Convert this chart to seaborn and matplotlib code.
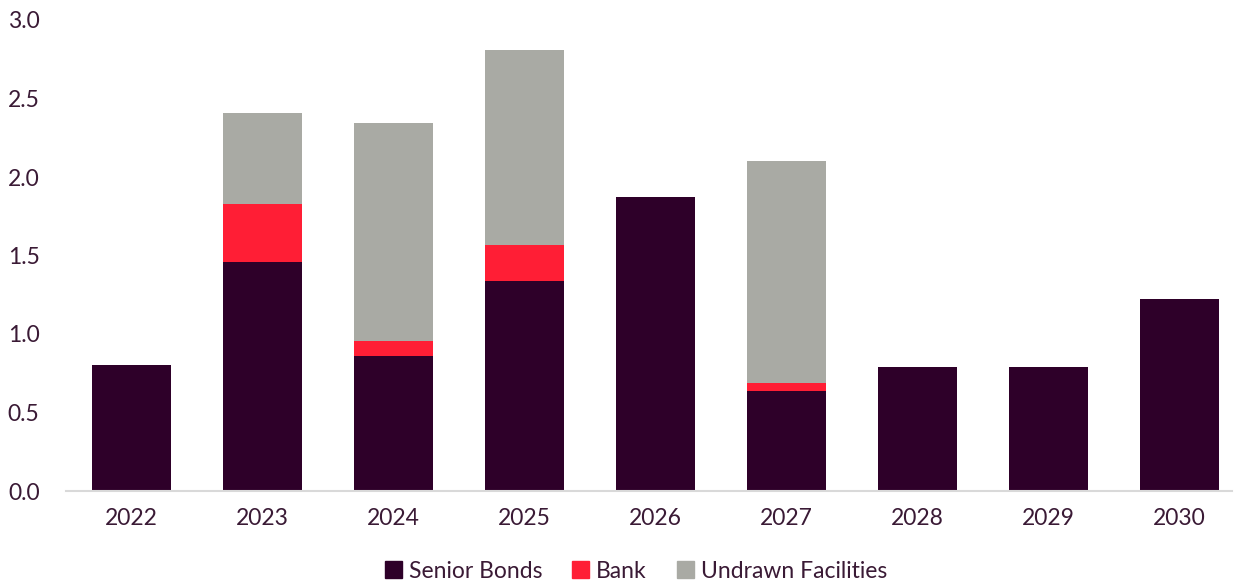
import numpy as np
import pandas as pd
import matplotlib
matplotlib.use("Agg")
import matplotlib.pyplot as plt
import seaborn as sns
from matplotlib.patches import Patch

# datos (miles de millones)
years = ["2022", "2023", "2024", "2025", "2026", "2027", "2028", "2029", "2030"]
senior_bonds = [0.80, 1.46, 0.86, 1.34, 1.87, 0.64, 0.79, 0.79, 1.22]
bank = [0.00, 0.37, 0.095, 0.23, 0.00, 0.05, 0.00, 0.00, 0.00]
undrawn = [0.00, 0.58, 1.39, 1.24, 0.00, 1.41, 0.00, 0.00, 0.00]

c_senior = "#2E0029"
c_bank = "#FF1E35"
c_undrawn = "#A9AAA4"
c_text = "#3A1A35"

sns.set_style("white")
plt.rcParams["font.family"] = ["Lato", "DejaVu Sans"]

df = pd.DataFrame({"year": years, "senior": senior_bonds, "bank": bank, "undrawn": undrawn})
df["senior_bank"] = df["senior"] + df["bank"]
df["total"] = df["senior_bank"] + df["undrawn"]

fig = plt.figure(figsize=(12.35, 5.83), dpi=100)
ax = fig.add_axes([66 / 1235, 92 / 583, 1166 / 1235, 471 / 583])

# barras apiladas: se dibujan los acumulados de mayor a menor
for col, c in [("total", c_undrawn), ("senior_bank", c_bank), ("senior", c_senior)]:
    sns.barplot(data=df, x="year", y=col, color=c, width=0.6, saturation=1,
                linewidth=0, ax=ax)

ax.set_xlim(-0.5, 8.4)
ax.set_ylim(0, 3.0)
ax.set_yticks(np.arange(0, 3.01, 0.5))
ax.set_yticklabels([f"{v:.1f}" for v in np.arange(0, 3.01, 0.5)])
ax.set_xlabel("")
ax.set_ylabel("")
for s in ["top", "right", "left"]:
    ax.spines[s].set_visible(False)
ax.spines["bottom"].set_color("#D9D9D9")
ax.spines["bottom"].set_linewidth(1.5)
ax.tick_params(axis="both", length=0, labelsize=16.5, colors=c_text)
ax.tick_params(axis="y", pad=19)
ax.tick_params(axis="x", pad=12)

handles = [Patch(color=c_senior, label="Senior Bonds"),
           Patch(color=c_bank, label="Bank"),
           Patch(color=c_undrawn, label="Undrawn Facilities")]
leg = fig.legend(handles=handles, loc="center", bbox_to_anchor=(0.515, 0.02), ncol=3,
                 frameon=False, fontsize=16.5, handlelength=0.75, handleheight=0.75,
                 handletextpad=0.3, columnspacing=1.3)
for t in leg.get_texts():
    t.set_color(c_text)

fig.savefig("out.png", dpi=100)
